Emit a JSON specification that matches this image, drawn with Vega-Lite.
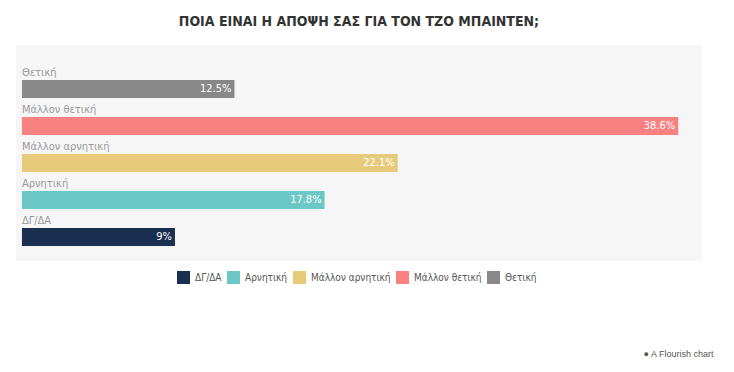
{
  "$schema": "https://vega.github.io/schema/vega-lite/v6.json",
  "width": 686,
  "height": 216,
  "padding": {"left": 16, "top": 15, "right": 10, "bottom": 5},
  "background": "white",
  "title": {
    "text": "ΠΟΙΑ ΕΙΝΑΙ Η ΑΠΟΨΗ ΣΑΣ ΓΙΑ ΤΟΝ ΤΖΟ ΜΠΑΙΝΤΕΝ;",
    "font": "DejaVu Sans Condensed, Roboto",
    "fontSize": 14,
    "fontWeight": "bold",
    "color": "#333333",
    "anchor": "middle",
    "offset": 16
  },
  "config": {"view": {"fill": "#f6f6f6", "stroke": null}},
  "data": {
    "values": [
      {"cat": "Θετική", "value": 12.5, "label": "12.5%"},
      {"cat": "Μάλλον θετική", "value": 38.6, "label": "38.6%"},
      {"cat": "Μάλλον αρνητική", "value": 22.1, "label": "22.1%"},
      {"cat": "Αρνητική", "value": 17.8, "label": "17.8%"},
      {"cat": "ΔΓ/ΔΑ", "value": 9, "label": "9%"}
    ]
  },
  "encoding": {
    "y": {
      "field": "cat",
      "type": "nominal",
      "sort": ["Θετική", "Μάλλον θετική", "Μάλλον αρνητική", "Αρνητική", "ΔΓ/ΔΑ"],
      "scale": {"paddingInner": 0.5135, "paddingOuter": 0.676, "align": 0.7},
      "axis": null
    }
  },
  "layer": [
    {
      "mark": {"type": "bar"},
      "encoding": {
        "x": {
          "field": "value",
          "type": "quantitative",
          "scale": {"domain": [-0.35, 40], "nice": false, "zero": false},
          "axis": {
            "labels": false, "ticks": false, "domain": false, "grid": false,
            "title": "● A Flourish chart",
            "titleFont": "Liberation Sans",
            "titleFontSize": 9,
            "titleFontWeight": "normal",
            "titleColor": "#555555",
            "titleAnchor": "end",
            "titleAlign": "right",
            "titleBaseline": "middle",
            "titleX": 697,
            "titleY": 92
          }
        },
        "color": {
          "field": "cat",
          "type": "nominal",
          "scale": {
            "domain": ["ΔΓ/ΔΑ", "Αρνητική", "Μάλλον αρνητική", "Μάλλον θετική", "Θετική"],
            "range": ["#1a2e50", "#6cc7c7", "#e8cb7a", "#f98182", "#888888"]
          },
          "legend": {
            "title": null,
            "orient": "none",
            "direction": "horizontal",
            "legendX": 161,
            "legendY": 226,
            "symbolType": "square",
            "symbolSize": 169,
            "symbolStrokeWidth": 0,
            "symbolOpacity": 1,
            "labelFont": "DejaVu Sans Condensed, Roboto",
            "labelFontSize": 10,
            "labelColor": "#555555",
            "columnPadding": 5,
            "labelOffset": 5
          }
        }
      }
    },
    {
      "mark": {"type": "text", "align": "right", "baseline": "middle", "dx": -3, "color": "white", "font": "DejaVu Sans Condensed, Roboto", "fontSize": 11},
      "encoding": {
        "x": {"field": "value", "type": "quantitative"},
        "text": {"field": "label"}
      }
    },
    {
      "mark": {"type": "text", "align": "left", "baseline": "middle", "dy": -16, "color": "#9a9a9a", "font": "DejaVu Sans Condensed, Roboto", "fontSize": 11},
      "encoding": {
        "x": {"datum": 0, "type": "quantitative"},
        "text": {"field": "cat"}
      }
    }
  ]
}
